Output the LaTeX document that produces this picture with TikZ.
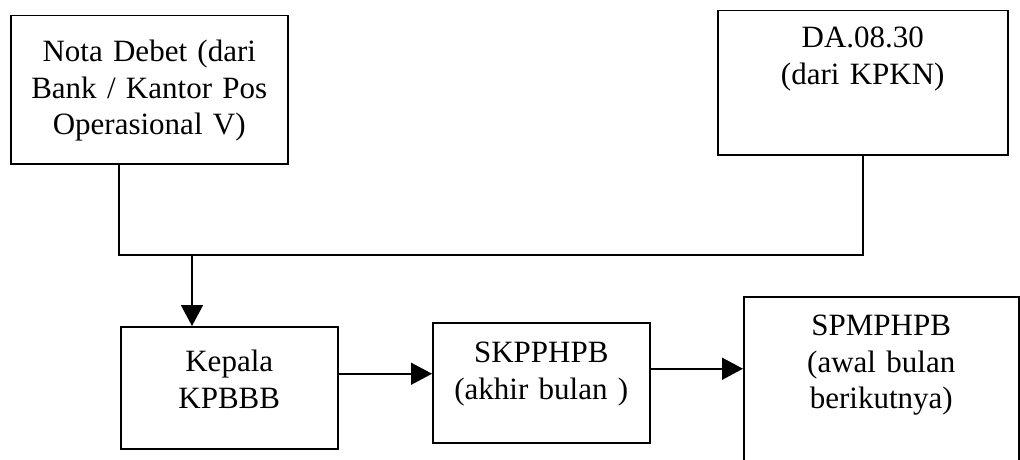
\documentclass[tikz,border=0pt]{standalone}
\usepackage{fontspec}
\setmainfont{Liberation Serif}
\usetikzlibrary{arrows.meta,positioning}

\begin{document}
\begin{tikzpicture}[
		x=1pt, y=1pt,
		line width=1.5pt,
		font=\fontsize{31}{36.5}\selectfont,
		block/.style={draw, anchor=north west, inner sep=0pt, align=center},
		arr/.style={-{Triangle[length=21pt,width=22pt]}},
	]
		\useasboundingbox (0,0) rectangle (1020,459);
		\clip (0,0) rectangle (1020,459);

		\node (nota) [block, text width=277pt, text height=46pt, text depth=102pt] at (10,444) {Nota Debet (dari\\Bank / Kantor Pos\\Operasional V)};
		\node (da) [block, text width=290pt, text height=37pt, text depth=107pt] at (717,449) {DA.08.30\\(dari KPKN)};
		\node (kepala) [block, text width=217pt, text height=45pt, text depth=77pt] at (120,133) {Kepala\\KPBBB};
		\node (skpphpb) [block, text width=217pt, text height=40pt, text depth=80pt] at (432,137) {SKPPHPB\\(akhir bulan )};
		\node (spmphpb) [block, text width=275pt, text height=39pt, text depth=140pt] at (743,163) {SPMPHPB\\(awal bulan\\berikutnya)};
		\coordinate (join) at (192,204);

		\draw ([xshift=-30.5pt]nota.south) |- (join) -| (da.south);
		\draw[arr] (join) -- (join |- kepala.north);
		\draw[arr] ([yshift=14pt]kepala.east) -- ([yshift=14pt]kepala.east -| skpphpb.west);
		\draw[arr] ([yshift=14pt]skpphpb.east) -- ([yshift=14pt]skpphpb.east -| spmphpb.west);
	\end{tikzpicture}
\end{document}
